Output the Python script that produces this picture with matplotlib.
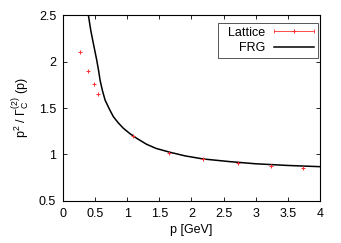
import matplotlib.pyplot as plt
from matplotlib.legend_handler import HandlerBase
from matplotlib.lines import Line2D

# lattice data
lat_p = [0.265, 0.384, 0.477, 0.55, 1.095, 1.645, 2.184, 2.72, 3.237, 3.74]
lat_y = [2.10, 1.90, 1.758, 1.654, 1.199, 1.02, 0.948, 0.905, 0.876, 0.855]
lat_err = [0.01, 0.01, 0.01, 0.01, 0.008, 0.006, 0.006, 0.006, 0.006, 0.006]

# FRG curve
frg_p = [0.394, 0.43, 0.467, 0.524, 0.556, 0.576, 0.612, 0.654, 0.72, 0.783, 0.86,
         0.939, 1.04, 1.147, 1.3, 1.45, 1.665, 1.9, 2.18, 2.6, 3.0, 3.5, 4.0]
frg_y = [2.50, 2.34, 2.21, 2.016, 1.89, 1.80, 1.69, 1.586, 1.49, 1.407, 1.34,
         1.282, 1.225, 1.174, 1.11, 1.065, 1.024, 0.985, 0.952, 0.923, 0.90, 0.882, 0.869]

xticks = [0, 0.5, 1, 1.5, 2, 2.5, 3, 3.5, 4]
xticklabels = ['0', '0.5', '1', '1.5', '2', '2.5', '3', '3.5', '4']
yticks = [0.5, 1, 1.5, 2, 2.5]
yticklabels = ['0.5', '1', '1.5', '2', '2.5']

RED = '#ff3030'

plt.rcParams['font.family'] = ['Liberation Sans', 'DejaVu Sans']
plt.rcParams['font.size'] = 9
plt.rcParams['mathtext.default'] = 'regular'


class GnuErrHandler(HandlerBase):
    # gnuplot-like key sample: horizontal bar with end ticks and a point in the middle
    def create_artists(self, legend, orig_handle, xd, yd, w, h, fontsize, trans):
        y = h / 2 - yd
        x0, x1 = -xd, -xd + w
        bar = Line2D([x0, x1], [y, y], color=RED, lw=0.6, transform=trans)
        ends = Line2D([x0, x1], [y, y], ls='', marker='|', ms=3, mew=0.6, color=RED, transform=trans)
        mid = Line2D([(x0 + x1) / 2], [y], ls='', marker='+', ms=3, mew=0.8, color=RED, transform=trans)
        return [bar, ends, mid]


fig = plt.figure(figsize=(3.41, 2.43), dpi=100)
ax = fig.add_axes([0.185, 0.173, 0.753, 0.765])

lat = ax.errorbar(lat_p, lat_y, yerr=lat_err, fmt='+', color=RED, ms=2.6, mew=0.7,
                  elinewidth=0.6, capsize=0, zorder=3)
frg, = ax.plot(frg_p, frg_y, color='black', lw=1.1, zorder=2)

ax.set_xlim(0, 4)
ax.set_ylim(0.5, 2.5)
ax.set_xticks(xticks)
ax.set_xticklabels(xticklabels)
ax.set_yticks(yticks)
ax.set_yticklabels(yticklabels)
ax.tick_params(direction='in', length=3, width=0.6, top=True, right=True, pad=5)
for s in ax.spines.values():
    s.set_linewidth(0.8)

ax.set_xlabel('p [GeV]', labelpad=3)
ax.set_ylabel(r'p$^2$ / $\Gamma_C^{(2)}$ (p)', labelpad=5)

leg = ax.legend([lat, frg], ['Lattice', 'FRG'], loc='upper right',
                bbox_to_anchor=(0.992, 0.957), borderaxespad=0, borderpad=0.3,
                markerfirst=False, fancybox=False, edgecolor='#555555',
                handlelength=3.2, handletextpad=0.7, labelspacing=0.25,
                frameon=True, framealpha=1,
                handler_map={type(lat): GnuErrHandler()})
leg.get_frame().set_linewidth(0.7)
for col in leg._legend_handle_box.get_children():
    col.align = 'right'
    col.width = 92

fig.savefig('out.png', dpi=100)
